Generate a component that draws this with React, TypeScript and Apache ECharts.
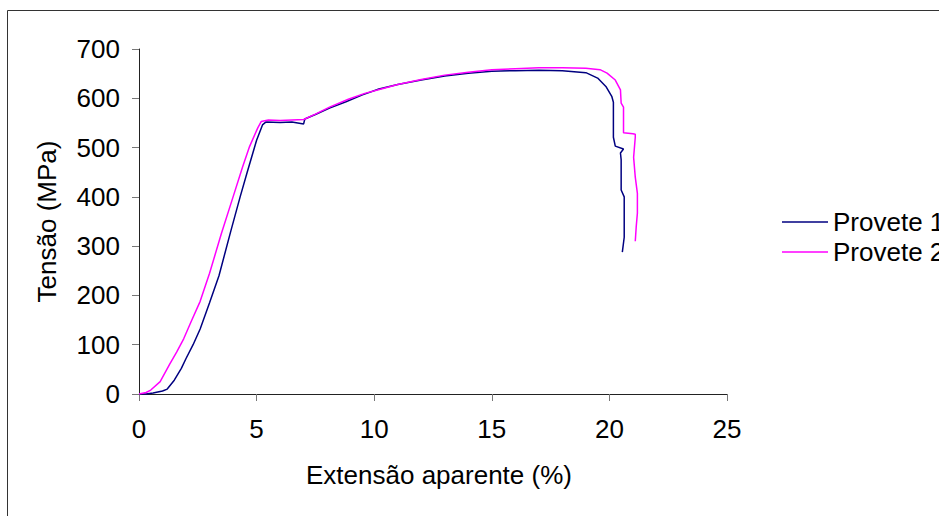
import React, { useEffect, useRef } from "react";
import * as echarts from "echarts";

const seriesNames = ["Provete 1", "Provete 2"];

const provete1: [number, number][] = [
  [0, 0], [0.3, 0], [0.6, 2], [1.0, 6], [1.2, 10], [1.5, 28], [1.8, 52], [2.0, 72],
  [2.3, 100], [2.6, 132], [3.0, 185], [3.4, 240], [3.9, 330], [4.3, 400], [4.6, 450],
  [5.0, 515], [5.25, 546], [5.4, 552], [6.0, 551], [6.5, 552], [7.0, 548], [7.05, 558],
  [7.5, 567], [8.1, 580], [8.8, 593], [9.5, 607], [10.2, 619], [11.0, 628], [12.0, 637],
  [13.0, 645], [14.0, 651], [15.0, 655], [16.0, 656], [17.0, 657], [18.0, 656], [19.0, 652],
  [19.5, 641], [19.85, 624], [20.1, 604], [20.17, 592], [20.17, 521], [20.25, 503],
  [20.6, 497], [20.47, 489], [20.5, 475], [20.5, 414], [20.63, 400], [20.63, 318], [20.55, 288],
];

const provete2: [number, number][] = [
  [0, 0], [0.3, 3], [0.5, 8], [0.9, 25], [1.3, 60], [1.6, 85], [1.9, 112], [2.2, 145],
  [2.6, 188], [3.0, 245], [3.5, 325], [4.0, 400], [4.4, 460], [4.7, 502], [5.05, 540],
  [5.2, 553], [5.5, 556], [6.0, 555], [6.5, 556], [7.0, 557], [7.5, 568], [8.1, 582],
  [8.9, 598], [9.6, 610], [10.3, 619], [11.0, 628], [12.0, 638], [13.0, 647], [14.0, 653],
  [15.0, 658], [16.0, 660], [17.0, 662], [18.0, 662], [19.0, 661], [19.6, 658], [19.9, 651],
  [20.25, 637], [20.47, 617], [20.5, 590], [20.6, 582], [20.6, 530], [21.0, 528], [21.1, 527],
  [21.1, 521], [21.03, 480], [21.1, 440], [21.19, 407], [21.19, 367], [21.14, 339], [21.1, 310],
];

const xTitle = "Extensão aparente (%)";
const yTitle = "Tensão (MPa)";

const FONT = "'Liberation Sans', Arial, sans-serif";
const FS = 26;

export default function App() {
  const ref = useRef<HTMLDivElement>(null);
  useEffect(() => {
    if (!ref.current) return;
    const chart = echarts.init(ref.current, null, { renderer: "svg" });
    chart.setOption({
      animation: false,
      backgroundColor: "#ffffff",
      textStyle: { fontFamily: FONT },
      graphic: [
        {
          type: "rect",
          shape: { x: 7.5, y: 10.5, width: 1200, height: 1200 },
          style: { fill: "none", stroke: "#333", lineWidth: 1 },
          silent: true,
        },
      ],
      grid: { left: 139, right: 212, top: 49, bottom: 122 },
      legend: {
        orient: "vertical",
        left: 777,
        top: 202,
        itemWidth: 46,
        itemHeight: 1.5,
        itemGap: 0,
        icon: "rect",
        textStyle: { fontSize: FS, color: "#000", fontFamily: FONT, lineHeight: 30 },
        data: seriesNames,
      },
      xAxis: {
        type: "value",
        min: 0,
        max: 25,
        interval: 5,
        name: xTitle,
        nameLocation: "middle",
        nameGap: 68,
        nameTextStyle: { fontSize: FS, color: "#000", fontFamily: FONT, padding: [0, 0, 0, 12] },
        axisLine: { lineStyle: { color: "#222", width: 1 } },
        axisTick: { show: true, length: 7, lineStyle: { color: "#777" } },
        axisLabel: { fontSize: FS, color: "#000", margin: 22, fontFamily: FONT },
        splitLine: { show: false },
      },
      yAxis: {
        type: "value",
        min: 0,
        max: 700,
        interval: 100,
        name: yTitle,
        nameLocation: "middle",
        nameGap: 79,
        nameTextStyle: { fontSize: FS, color: "#000", fontFamily: FONT },
        axisLine: { show: true, lineStyle: { color: "#222", width: 1 } },
        axisTick: { show: true, length: 7, lineStyle: { color: "#777" } },
        axisLabel: { fontSize: FS, color: "#000", margin: 19, fontFamily: FONT },
        splitLine: { show: false },
      },
      series: [
        {
          name: seriesNames[0],
          type: "line",
          data: provete1,
          showSymbol: false,
          symbol: "none",
          lineStyle: { color: "#000080", width: 1.5 },
          itemStyle: { color: "#000080" },
          z: 2,
        },
        {
          name: seriesNames[1],
          type: "line",
          data: provete2,
          showSymbol: false,
          symbol: "none",
          lineStyle: { color: "#FF00FF", width: 1.5 },
          itemStyle: { color: "#FF00FF" },
          z: 3,
        },
      ],
    });
    return () => chart.dispose();
  }, []);
  return (
    <div
      ref={ref}
      style={{ position: "fixed", left: 0, top: 0, width: 939, height: 516, background: "#fff" }}
    />
  );
}
